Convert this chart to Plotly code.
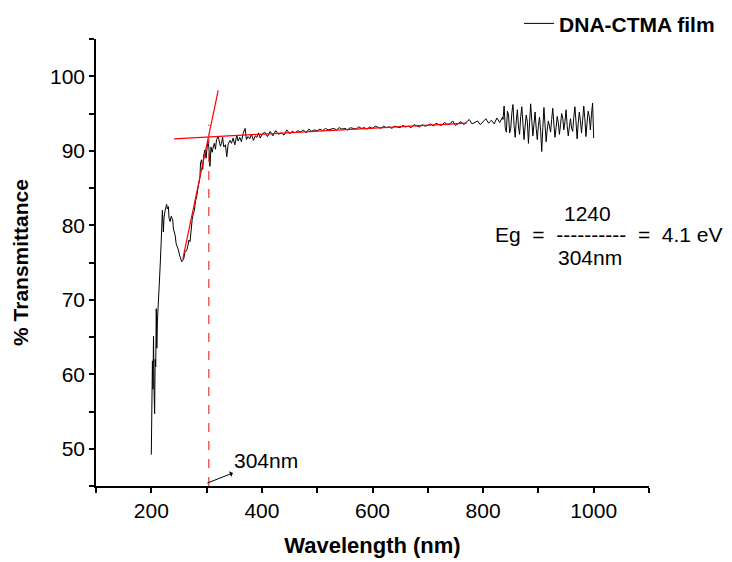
import plotly.graph_objects as go

# ---- data ----
wl_uv = [200, 201, 202, 203, 204, 205, 206, 207, 208, 209, 210, 211, 212, 213, 214.6,
         216, 218, 220, 221.8, 223, 225, 227.8, 229, 230.9, 232, 234, 236, 238.8, 240,
         243, 245, 247, 249, 251, 253, 255, 257, 259, 261, 264, 266, 268, 270, 272,
         274, 276, 278, 280, 282, 284, 286, 288, 289, 291, 293, 295, 297, 299, 301,
         303, 305, 306, 308, 310, 312, 314, 316, 318, 321, 323, 325, 327, 329, 331,
         334, 336.5, 339, 342.5, 345, 348, 351, 354.6, 357, 360, 363, 366, 369.7, 372,
         375, 378, 381, 384.7, 388, 391, 394, 397, 400]
t_uv = [49.2, 55.0, 61.8, 58.0, 65.1, 57.8, 54.7, 62.0, 61.0, 68.8, 63.5, 67.0, 69.0, 71.0, 73.5,
        74.5, 78.0, 82.0, 79.1, 81.0, 82.0, 82.8, 82.2, 82.5, 81.0, 80.5, 81.2, 80.7, 79.5,
        78.7, 77.5, 77.2, 76.7, 76.0, 75.5, 75.1, 75.3, 75.6, 76.5, 76.6, 77.2, 78.0, 77.8, 79.5,
        80.8, 81.6, 82.0, 83.3, 83.8, 84.8, 85.7, 86.5, 88.4, 88.8, 87.5, 89.5, 90.1, 89.0, 90.5,
        91.4, 89.5, 87.9, 90.5, 89.8, 90.5, 91.0, 90.2, 91.5, 91.9, 91.2, 90.6, 91.0, 91.8, 90.5,
        90.8, 89.2, 90.9, 91.4, 91.0, 91.7, 90.8, 92.1, 91.3, 91.8, 91.2, 92.3, 93.0, 91.5,
        91.9, 91.6, 92.2, 91.4, 92.0, 91.8, 92.4, 91.7, 92.2]

wl_vis = list(range(405, 840, 5))
t_vis = [92.5, 91.9, 92.6, 92.0, 92.7, 92.2, 92.4, 92.1, 92.8, 92.3,
         92.6, 92.4, 92.7, 92.5, 92.8, 92.4, 92.9, 92.6, 92.8, 92.7,
         92.9, 92.7, 93.0, 92.8, 92.9, 93.0, 92.8, 93.1, 92.9, 93.0,
         92.8, 93.1, 93.0, 92.9, 93.2, 93.0, 93.1, 92.9, 93.2, 93.0,
         93.3, 93.1, 93.0, 93.3, 93.1, 93.2, 93.0, 93.3, 93.2, 93.1,
         93.4, 93.2, 93.3, 93.1, 93.5, 93.3, 93.2, 93.5, 93.3, 93.4,
         93.6, 93.3, 93.7, 93.5, 93.4, 93.8, 93.5, 93.6, 94.0, 93.4,
         93.7, 93.9, 93.5, 93.8, 94.2, 93.6, 93.8, 94.0, 93.5, 93.9,
         94.3, 93.7, 94.1, 93.6, 94.4, 93.8, 94.5]

wl_nir = list(range(836, 1001, 2))
t_nir = [94.2, 96.0, 93.1, 92.5, 95.3, 94.8, 92.4, 93.0, 95.1, 96.2,
         93.4, 91.8, 94.0, 95.5, 93.2, 92.2, 94.6, 95.9, 93.7, 91.5,
         93.3, 94.8, 93.9, 91.0, 93.8, 96.3, 94.1, 92.0, 93.6, 95.2,
         93.0, 91.5, 93.4, 94.5, 92.7, 89.9, 93.1, 95.8, 93.5, 91.2,
         92.9, 94.0, 93.3, 92.5, 94.2, 95.7, 93.6, 91.8, 93.1, 94.6,
         93.8, 92.2, 93.5, 95.0, 94.4, 92.8, 93.9, 95.5, 93.4, 92.0,
         93.2, 94.3, 93.0, 92.6, 94.5, 95.9, 93.9, 91.6, 93.7, 95.2,
         94.0, 92.4, 94.1, 96.0, 94.3, 91.9, 93.8, 95.3, 94.6, 92.8,
         94.9, 96.4, 91.7]

# tangent lines and cut-off marker
fit_flat_x = [241, 770]
fit_flat_y = [91.6, 93.7]
fit_edge_x = [257, 321]
fit_edge_y = [75.5, 98.1]
cutoff_x = [304, 304]
cutoff_y = [45, 93.5]

x_ticks = [200, 400, 600, 800, 1000]
y_ticks = [50, 60, 70, 80, 90, 100]

wavelength = wl_uv + wl_vis + wl_nir
transmittance = t_uv + t_vis + t_nir

FONT = "Arial, Liberation Sans, sans-serif"

fig = go.Figure()
fig.add_trace(go.Scatter(x=wavelength, y=transmittance, mode="lines",
                         line=dict(color="black", width=1), name="DNA-CTMA film"))
fig.add_trace(go.Scatter(x=fit_flat_x, y=fit_flat_y, mode="lines",
                         line=dict(color="red", width=1.2), showlegend=False, hoverinfo="skip"))
fig.add_trace(go.Scatter(x=fit_edge_x, y=fit_edge_y, mode="lines",
                         line=dict(color="red", width=1.2), showlegend=False, hoverinfo="skip"))
fig.add_trace(go.Scatter(x=cutoff_x, y=cutoff_y, mode="lines",
                         line=dict(color="#ee3333", width=1.2, dash="dash"),
                         showlegend=False, hoverinfo="skip"))

nb = "\u00a0"
fig.add_annotation(x=988.7, y=81.6, text="1240", showarrow=False,
                   font=dict(family=FONT, size=21, color="black"))
fig.add_annotation(x=1028.5, y=78.8,
                   text=f"Eg{nb*2}={nb*2}----------{nb*2}={nb*2}4.1 eV", showarrow=False,
                   font=dict(family=FONT, size=21, color="black"))
fig.add_annotation(x=994, y=75.7, text="304nm", showarrow=False,
                   font=dict(family=FONT, size=21, color="black"))
fig.add_annotation(x=301.4, y=45.4, text="304nm", showarrow=True,
                   ax=58.7, ay=-23, arrowside="start", arrowhead=2, arrowsize=1,
                   arrowwidth=1, arrowcolor="black",
                   font=dict(family=FONT, size=21, color="black"))

axis_common = dict(showgrid=False, zeroline=False, showline=True, linecolor="black",
                   linewidth=1.5, ticks="outside", ticklen=5, tickwidth=1.5,
                   tickcolor="black", tickfont=dict(family=FONT, size=21, color="black"))

fig.update_xaxes(range=[100, 1100], tickvals=x_ticks,
                 minor=dict(dtick=100, tick0=0, ticks="outside", ticklen=5,
                            tickwidth=1.5, tickcolor="black"),
                 title=dict(text="Wavelength (nm)", standoff=17,
                            font=dict(family=FONT, size=22, color="black", weight="bold")),
                 **axis_common)
fig.update_yaxes(range=[45, 105], tickvals=y_ticks,
                 minor=dict(dtick=5, tick0=0, ticks="outside", ticklen=5,
                            tickwidth=1.5, tickcolor="black"),
                 title=dict(text="% Transmittance", standoff=16,
                            font=dict(family=FONT, size=21, color="black", weight="bold")),
                 **axis_common)

# the page body adds an 8px offset, so the figure is sized to fit the window
fig.update_layout(
    width=724, height=554,
    margin=dict(l=88, r=83, t=31, b=76, autoexpand=False),
    plot_bgcolor="white", paper_bgcolor="white",
    font=dict(family=FONT, color="black"),
    showlegend=True,
    legend=dict(x=0.765, y=1.08, xanchor="left", yanchor="top",
                bgcolor="rgba(0,0,0,0)",
                font=dict(family=FONT, size=21, color="black", weight="bold")),
)

fig.write_html("out.html")
